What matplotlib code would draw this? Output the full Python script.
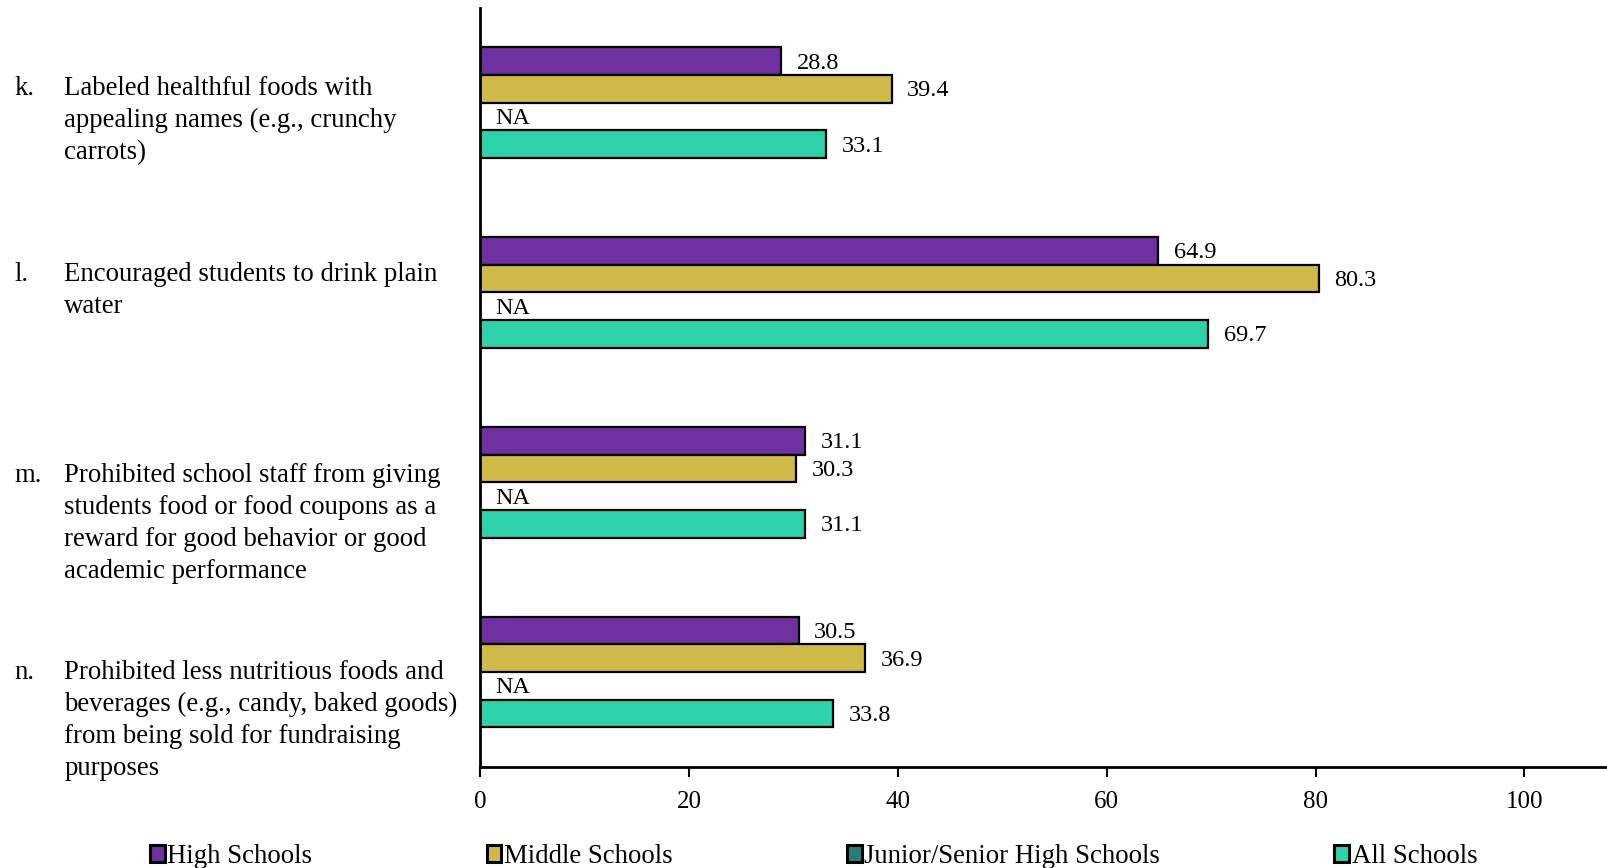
import numpy as np
import matplotlib
matplotlib.use("Agg")
import matplotlib.pyplot as plt
import matplotlib.transforms as mtransforms

plt.rcParams['font.family'] = ['Liberation Serif', 'DejaVu Serif']

letters = ["k.", "l.", "m.", "n."]
items = [
    "Labeled healthful foods with\nappealing names (e.g., crunchy\ncarrots)",
    "Encouraged students to drink plain\nwater",
    "Prohibited school staff from giving\nstudents food or food coupons as a\nreward for good behavior or good\nacademic performance",
    "Prohibited less nutritious foods and\nbeverages (e.g., candy, baked goods)\nfrom being sold for fundraising\npurposes",
]
series = ["High Schools", "Middle Schools", "Junior/Senior High Schools", "All Schools"]
high_schools = [28.8, 64.9, 31.1, 30.5]
middle_schools = [39.4, 80.3, 30.3, 36.9]
junior_senior = [None, None, None, None]  # NA
all_schools = [33.1, 69.7, 31.1, 33.8]

colors = ["#7030A0", "#CFBA47", "#2A7C7C", "#2DD2AA"]
valores = [high_schools, middle_schools, junior_senior, all_schools]

fig = plt.figure(figsize=(16.08, 8.68), dpi=100)
ax = fig.add_axes([0.2985, 0.1164, 0.7015, 0.8746])

fs_num = 17.5
fs_txt = 19.3
h = 0.146
pos = np.arange(len(items))
handles = []
for i, (nombre, vals, col) in enumerate(zip(series, valores, colors)):
    offset = (i - 1.5) * h
    v = [np.nan if x is None else x for x in vals]
    b = ax.barh(pos + offset, v, height=h, color=col, edgecolor="black", linewidth=1.6, label=nombre)
    handles.append(b)
    for p, x in zip(pos, vals):
        if x is None:
            ax.text(1.5, p + offset + 0.01, "NA", va="center", ha="left", fontsize=fs_num)
        else:
            ax.text(x + 1.5, p + offset + 0.01, f"{x:.1f}", va="center", ha="left", fontsize=fs_num)

ax.set_ylim(3.5, -0.5)
ax.set_xlim(0, 108)
ax.set_xticks([0, 20, 40, 60, 80, 100])
ax.tick_params(axis="x", labelsize=18, length=7, width=1.5, pad=10, direction="out")
ax.set_yticks([])
for s in ["top", "right"]:
    ax.spines[s].set_visible(False)
ax.spines["left"].set_linewidth(2)
ax.spines["bottom"].set_linewidth(2)

# etiquetas de categorias
trans = mtransforms.blended_transform_factory(fig.transFigure, ax.transData)
primera_linea = [-0.074, 0.905, 1.964, 3.002]
for p, letra, texto, y0 in zip(pos, letters, items, primera_linea):
    ax.text(0.009, y0, letra, transform=trans, va="center", ha="left", fontsize=fs_txt)
    ax.text(0.040, y0 - 0.068, texto, transform=trans, va="top", ha="left", fontsize=fs_txt, linespacing=1.37)

leg = fig.legend(handles=handles, labels=series, loc="lower center", bbox_to_anchor=(0.506, -0.029),
                 ncol=4, frameon=False, fontsize=fs_txt, handlelength=0.55, handleheight=0.55,
                 handletextpad=0.1, columnspacing=6.5)
for hnd in leg.legend_handles:
    hnd.set_linewidth(2.2)

fig.savefig("out.png", dpi=100)
